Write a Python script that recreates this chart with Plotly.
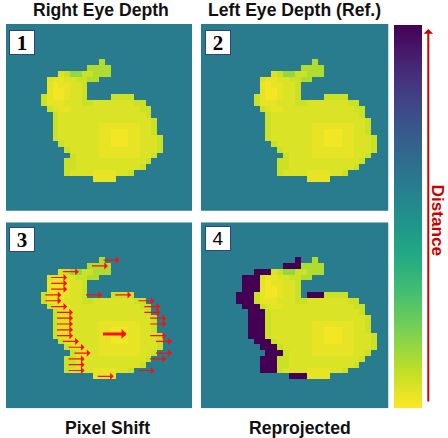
import plotly.graph_objects as go

# ---------------- data ----------------
# right-eye depth map, 32x32 cells; one character per cell
right_eye_rows = [
    "................................",
    "................................",
    "................................",
    "................................",
    "................................",
    "................................",
    "................" + "4" + "...............",
    ".............." + "4444" + "..............",
    "........." + "235533444" + "..............",
    "......." + "211223344" + "................",
    "......." + "1011223" + "..................",
    "......." + "1001223" + "..................",
    "......" + "31001223" + "...." + "3333" + "..........",
    "......" + "311122233222222233" + "........",
    "......." + "321122222222222233" + ".......",
    "........" + "32222222222222223" + ".......",
    "........" + "322222222222222223" + "......",
    "........" + "322222221111111223" + "......",
    "........" + "322222221100011223" + "......",
    "........" + "3222222211000112223" + ".....",
    "........." + "322222211000112223" + ".....",
    ".........." + "32222211111112223" + ".....",
    "..........." + "322221111111223" + "......",
    ".........." + "332222222222223" + ".......",
    ".........." + "33222222222223" + "........",
    ".........." + "322221111223" + "..........",
    "..............." + "1111" + ".............",
    "................................",
    "................................",
    "................................",
    "................................",
    "................................",
]
# distance value of each character (0 = near / yellow, 1 = far / purple)
level_chars = [".", "0", "1", "2", "3", "4", "5"]
level_values = [0.585, 0.015, 0.035, 0.055, 0.08, 0.12, 0.16]
hole_value = 1.0
pixel_shift = 3  # disparity in cells between the two eyes

# arrows in panel 3 (row, start column), each of length pixel_shift
arrow_rows = [6, 7, 8, 9, 10, 11, 12, 13, 14, 15, 16, 17, 18, 19, 20, 21, 22, 23, 24, 25, 26,
              12, 12, 13, 14, 15, 16, 17, 19, 20, 22, 23, 25]
arrow_cols = [16, 14, 9, 7, 7, 7, 6, 6, 7, 8, 8, 8, 8, 8, 9, 10, 11, 10, 10, 10, 15,
              13, 18, 22, 23, 23, 24, 24, 24, 25, 25, 24, 22]
big_arrow_row = 18.7
big_arrow_from = 15.9
big_arrow_to = 20.2

titles_top = ["Right Eye Depth", "Left Eye Depth (Ref.)"]
titles_bottom = ["Pixel Shift", "Reprojected"]
panel_numbers = ["1", "2", "3", "4"]
colorbar_label = "Distance"

# ---------------- build the four maps ----------------
for r in right_eye_rows:
    assert len(r) == 32, (r, len(r))
lv = dict(zip(level_chars, level_values))
N = 32
right = [[lv[ch] for ch in row] for row in right_eye_rows]
mask_r = [[ch != "." for ch in row] for row in right_eye_rows]
bg = lv["."]
left = [[bg] * N for _ in range(N)]
mask_l = [[False] * N for _ in range(N)]
for i in range(N):
    for j in range(N):
        if mask_r[i][j] and j + pixel_shift < N:
            left[i][j + pixel_shift] = right[i][j]
            mask_l[i][j + pixel_shift] = True
reproj = [row[:] for row in left]
for i in range(N):
    for j in range(N):
        if mask_r[i][j] and not mask_l[i][j]:
            reproj[i][j] = hole_value

viridis = ['#440154', '#482475', '#414487', '#355f8d', '#2a788e', '#21918c',
           '#22a884', '#44bf70', '#7ad151', '#bddf26', '#fde725']
cscale = [[k / 10, viridis[10 - k]] for k in range(11)]

W, H = 448, 438
def px(x):
    return x / W
def py(y):
    return 1 - y / H

panels = [
    (right, (6, 192.3), (24, 210.7)),
    (left, (200.8, 388.3), (24, 210.7)),
    (right, (6, 192.3), (222.3, 408.3)),
    (reproj, (200.8, 388.3), (222.3, 408.3)),
]

fig = go.Figure()
layout = dict(
    width=W, height=H, margin=dict(l=0, r=0, t=0, b=0, pad=0),
    paper_bgcolor="white", plot_bgcolor="white", showlegend=False,
    coloraxis=dict(
        colorscale=cscale, cmin=0, cmax=1,
        colorbar=dict(thickness=28, thicknessmode="pixels", len=383, lenmode="pixels",
                      x=px(394), xanchor="left", y=py((25 + 408) / 2), yanchor="middle",
                      outlinewidth=0, showticklabels=False, ticks="", xpad=0, ypad=0),
    ),
)
for k, (z, (x0, x1), (y0, y1)) in enumerate(panels):
    sfx = "" if k == 0 else str(k + 1)
    fig.add_trace(go.Heatmap(z=z, x=list(range(N)), y=list(range(N)), coloraxis="coloraxis",
                             xaxis="x" + sfx, yaxis="y" + sfx, hoverinfo="skip"))
    layout["xaxis" + sfx] = dict(domain=[px(x0), px(x1)], range=[-0.5, N - 0.5], visible=False,
                                 anchor="y" + sfx, fixedrange=True)
    layout["yaxis" + sfx] = dict(domain=[py(y1), py(y0)], range=[N - 0.5, -0.5], visible=False,
                                 anchor="x" + sfx, fixedrange=True)
fig.update_layout(**layout)

ann = []
bold = dict(family="Liberation Sans, Arial, sans-serif", size=17.6, color="#111111", weight="bold")
for t, cx in zip(titles_top, [101.3, 294]):
    ann.append(dict(text=t, x=px(cx), y=py(10.5), xref="paper", yref="paper",
                    xanchor="center", yanchor="middle", showarrow=False, font=bold))
for t, cx in zip(titles_bottom, [107.8, 300]):
    ann.append(dict(text=t, x=px(cx), y=py(427.5), xref="paper", yref="paper",
                    xanchor="center", yanchor="middle", showarrow=False, font=bold))

box_pos = [(22, 42.5), (218, 42.3), (22, 239.2), (218, 238)]
for k, (num, (cx, cy)) in enumerate(zip(panel_numbers, box_pos)):
    if k < 3:
        f = dict(family="Liberation Serif, Times New Roman, serif", size=21, color="black", weight="bold")
    else:
        f = dict(family="Liberation Sans, Arial, sans-serif", size=19, color="black")
    ann.append(dict(text=num, x=px(cx), y=py(cy), xref="paper", yref="paper",
                    xanchor="center", yanchor="middle", showarrow=False, font=f,
                    width=24, height=23, bgcolor="white", bordercolor="#34447a",
                    borderwidth=1, borderpad=0, align="center", valign="middle"))

for r, c in zip(arrow_rows, arrow_cols):
    ann.append(dict(text="", x=c + pixel_shift, y=r, ax=c, ay=r, xref="x3", yref="y3",
                    axref="x3", ayref="y3", showarrow=True, arrowhead=1, arrowsize=1.0,
                    arrowwidth=1.2, arrowcolor="#ff0d0d", standoff=0, startstandoff=0))
ann.append(dict(text="", x=big_arrow_to, y=big_arrow_row, ax=big_arrow_from, ay=big_arrow_row,
                xref="x3", yref="y3", axref="x3", ayref="y3", showarrow=True, arrowhead=1,
                arrowsize=0.55, arrowwidth=3, arrowcolor="#ff0d0d", standoff=0))

# colorbar arrow + label
ann.append(dict(text="", x=px(428.3), y=py(29), xref="paper", yref="paper", ax=0, ay=374,
                showarrow=True, arrowhead=1, arrowsize=0.8, arrowwidth=2, arrowcolor="#cc0000",
                standoff=0))
ann.append(dict(text=colorbar_label, x=px(437.5), y=py(220), xref="paper", yref="paper",
                xanchor="center", yanchor="middle", textangle=90, showarrow=False,
                font=dict(family="Liberation Sans, Arial, sans-serif", size=17.2,
                          color="#cc0000", weight="bold")))
fig.update_layout(annotations=ann)
fig.write_html("out.html", config={"displayModeBar": False},
               post_script="document.body.style.margin='0';document.body.style.overflow='hidden';")
